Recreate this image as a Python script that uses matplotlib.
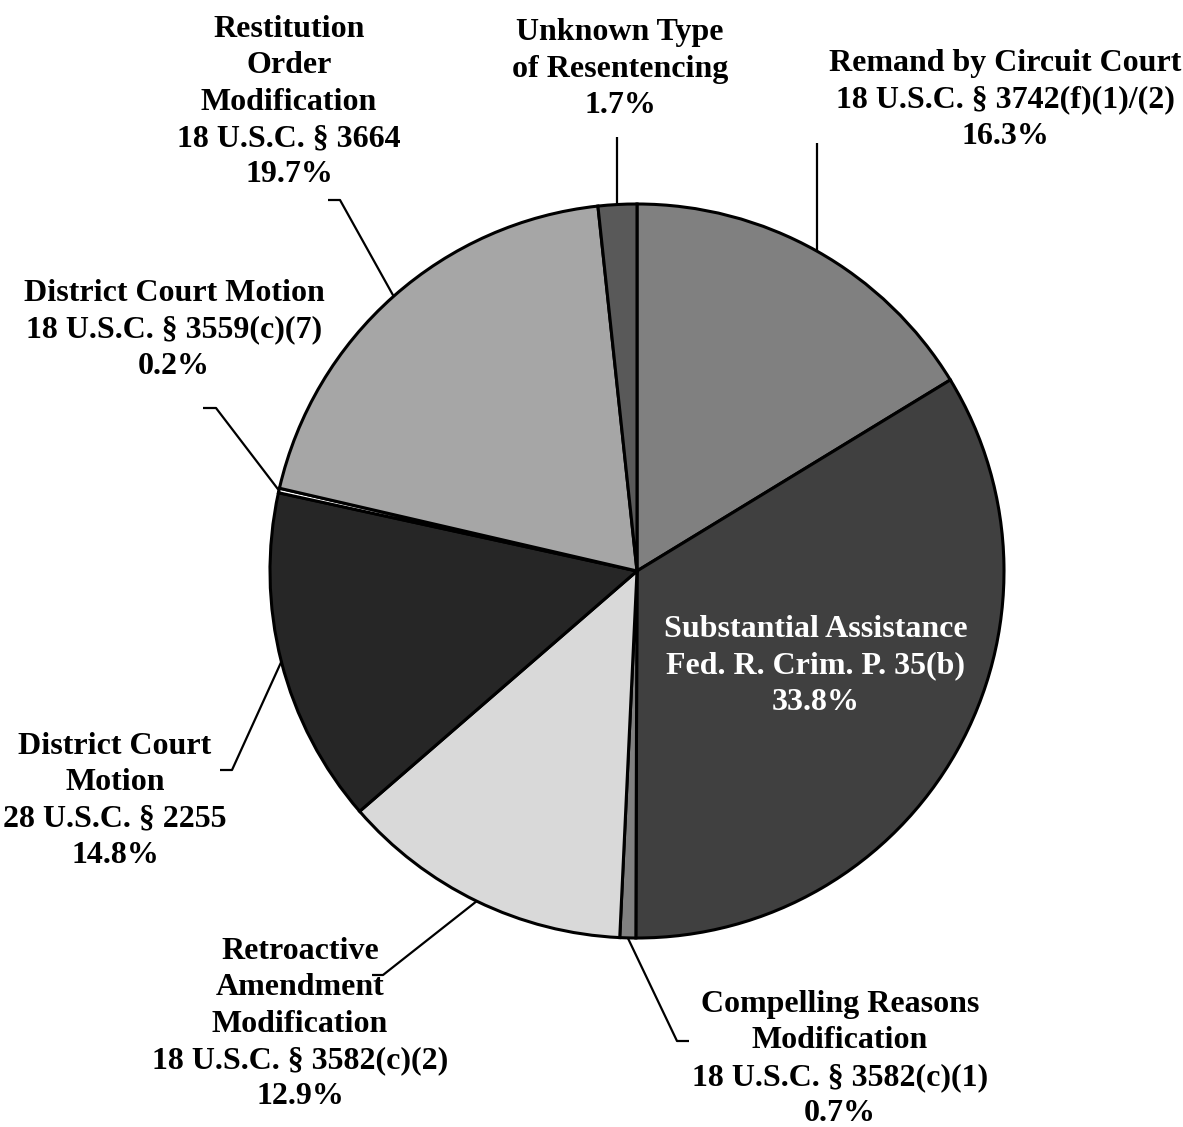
import numpy as np
import matplotlib
matplotlib.use("Agg")
from matplotlib import pyplot as plt

# slices, clockwise from 12 o'clock
labels = [
    "Remand by Circuit Court\n18 U.S.C. § 3742(f)(1)/(2)",
    "Substantial Assistance\nFed. R. Crim. P. 35(b)",
    "Compelling Reasons\nModification\n18 U.S.C. § 3582(c)(1)",
    "Retroactive\nAmendment\nModification\n18 U.S.C. § 3582(c)(2)",
    "District Court\nMotion\n28 U.S.C. § 2255",
    "District Court Motion\n18 U.S.C. § 3559(c)(7)",
    "Restitution\nOrder\nModification\n18 U.S.C. § 3664",
    "Unknown Type\nof Resentencing",
]
shares = [16.3, 33.8, 0.7, 12.9, 14.8, 0.2, 19.7, 1.7]
colors = ["#808080", "#404040", "#808080", "#d9d9d9",
          "#262626", "#ffffff", "#a6a6a6", "#595959"]

W, H = 1183, 1127
cx, cy, R = 637, 571, 367

# label block centre (pixels) and leader elbow points (pixels), None = inside label
label_pos = [(1005, 100), (816, 666), (840, 1059), (300, 1024),
             (115, 801), (174, 330), (289, 102), (620, 69)]
leaders = [
    [(None, 143)],
    None,
    [(677, 1041), (689, 1041)],
    [(383, 975), (372, 975)],
    [(232, 770), (220, 770)],
    [(216, 408), (203, 408)],
    [(340, 200), (328, 200)],
    [(None, 137)],
]

plt.rcParams['font.family'] = ['Liberation Serif', 'DejaVu Serif']

fig = plt.figure(figsize=(W / 100, H / 100), dpi=100)
ax = fig.add_axes([0, 0, 1, 1])
ax.set_xlim(0, W)
ax.set_ylim(0, H)
ax.set_aspect('equal')
ax.axis('off')

def py(y):
    return H - y

wedges, _ = ax.pie(shares, colors=colors, startangle=90, counterclock=False,
                   center=(cx, py(cy)), radius=R,
                   wedgeprops=dict(edgecolor='black', linewidth=2.2))
ax.set_xlim(0, W)
ax.set_ylim(0, H)

for i, w in enumerate(wedges):
    mid = np.deg2rad((w.theta1 + w.theta2) / 2)
    ex = cx + R * np.cos(mid)
    ey = py(cy) + R * np.sin(mid)
    txt = f"{labels[i]}\n{shares[i]:.1f}%"
    tx, ty = label_pos[i]
    if leaders[i] is None:
        ax.text(tx, py(ty), txt, ha='center', va='center', fontsize=23,
                fontweight='bold', color='white', linespacing=1.34)
        continue
    xs, ys = [ex], [ey]
    for px_, py_ in leaders[i]:
        xs.append(ex if px_ is None else px_)
        ys.append(py(py_))
    ax.plot(xs, ys, color='black', linewidth=1.6, solid_capstyle='butt')
    ax.text(tx, py(ty), txt, ha='center', va='center', fontsize=23,
            fontweight='bold', color='black', linespacing=1.34)

fig.savefig("out.png", dpi=100)
